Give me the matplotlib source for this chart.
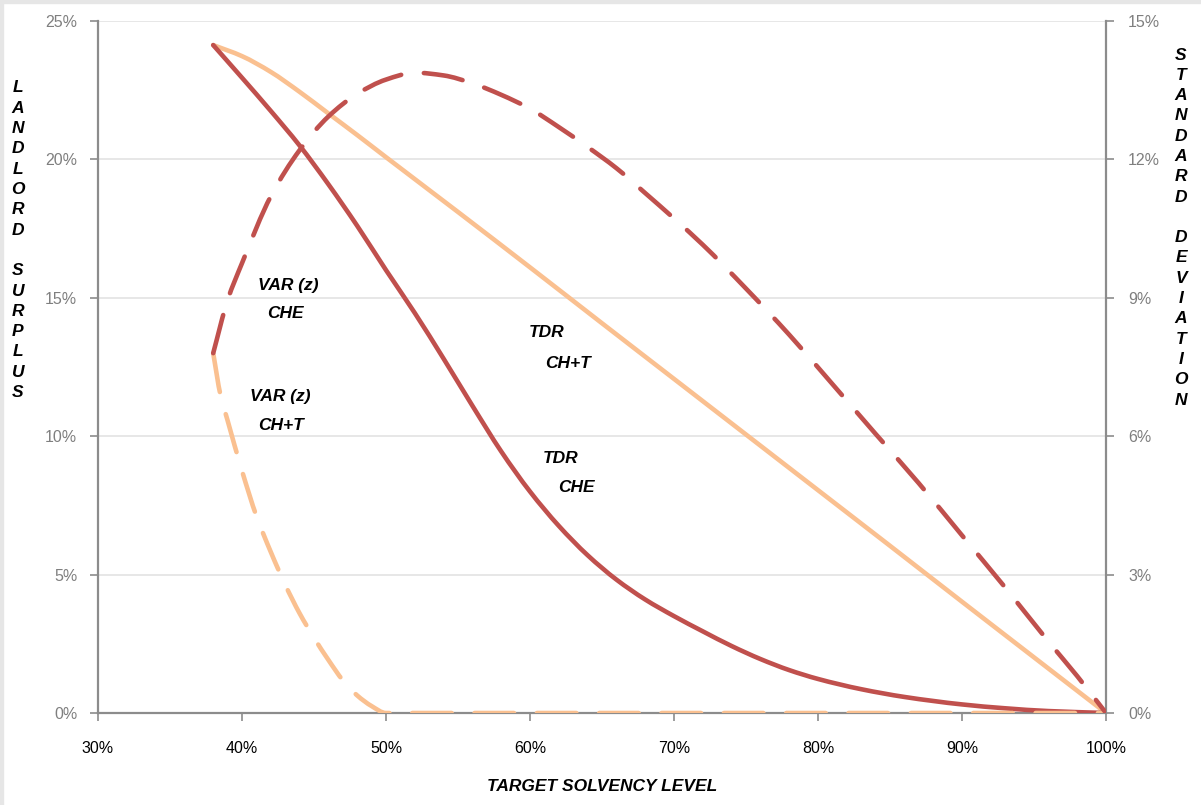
import matplotlib
matplotlib.use("Agg")
import numpy as np
import matplotlib.pyplot as plt
from matplotlib.ticker import PercentFormatter, MultipleLocator
from matplotlib.patches import Rectangle, PathPatch
from matplotlib.path import Path

# ---- data ----
tdr_che_x = [0.38, 0.40, 0.42, 0.44, 0.46, 0.48, 0.50, 0.52, 0.54, 0.56, 0.58, 0.60,
             0.62, 0.64, 0.66, 0.68, 0.70, 0.72, 0.74, 0.76, 0.78, 0.80, 0.83, 0.86,
             0.90, 0.93, 0.96, 1.00]
tdr_che_y = [0.2413, 0.2295, 0.2175, 0.2050, 0.1910, 0.1760, 0.1600, 0.1445, 0.1280,
             0.1110, 0.0945, 0.0800, 0.0676, 0.0570, 0.0482, 0.0410, 0.0350, 0.0295,
             0.0242, 0.0195, 0.0155, 0.0123, 0.0086, 0.0058, 0.0031, 0.0017, 0.0007, 0.0]

tdr_cht_x = [0.38, 0.40, 0.42, 0.44, 0.46, 0.48, 0.50, 0.55, 0.60, 0.65, 0.70, 0.75,
             0.80, 0.85, 0.90, 0.95, 1.00]
tdr_cht_y = [0.2413, 0.2373, 0.2316, 0.2244, 0.2166, 0.2088, 0.2008, 0.1810, 0.1610,
             0.1408, 0.1207, 0.1006, 0.0805, 0.0604, 0.0402, 0.0201, 0.0]

var_che_x = [0.38, 0.39, 0.40, 0.42, 0.44, 0.46, 0.48, 0.50, 0.52, 0.54, 0.56, 0.58,
             0.60, 0.62, 0.64, 0.66, 0.68, 0.70, 0.72, 0.75, 0.78, 0.81, 0.84, 0.87,
             0.90, 0.93, 0.96, 0.98, 1.00]
var_che_y = [0.0780, 0.0895, 0.0975, 0.1120, 0.1220, 0.1293, 0.1342, 0.1373, 0.1388,
             0.1382, 0.1365, 0.1340, 0.1310, 0.1270, 0.1227, 0.1181, 0.1127, 0.1072,
             0.1015, 0.0920, 0.0820, 0.0713, 0.0605, 0.0498, 0.0385, 0.0272, 0.0155,
             0.0080, 0.0]

var_cht_x = [0.38, 0.385, 0.39, 0.40, 0.41, 0.42, 0.43, 0.44, 0.45, 0.46, 0.47, 0.48,
             0.49, 0.50, 0.60, 0.70, 0.80, 0.90, 1.00]
var_cht_y = [0.0780, 0.0690, 0.0634, 0.0525, 0.0427, 0.0349, 0.0278, 0.0216, 0.0163,
             0.0115, 0.0071, 0.0038, 0.0015, 0.0, 0.0, 0.0, 0.0, 0.0, 0.0]

x_ticks = [0.3, 0.4, 0.5, 0.6, 0.7, 0.8, 0.9, 1.0]
left_label = "LANDLORD SURPLUS"
right_label = "STANDARD DEVIATION"
x_label = "TARGET SOLVENCY LEVEL"

RED = "#C0504D"
ORANGE = "#FAC090"
GRID = "#E3E3E3"
SPINE = "#8C8C8C"
TICKGRAY = "#7F7F7F"
FONT = "Liberation Sans"


def smooth_path(xs, ys):
    """Smoothed line (like a spreadsheet 'smoothed line') through the given points,
    built as cubic Bezier segments with monotone (PCHIP) tangents."""
    x = np.asarray(xs, float)
    y = np.asarray(ys, float)
    n = len(x)
    h = np.diff(x)
    d = np.diff(y) / h
    m = np.zeros(n)
    m[0], m[-1] = d[0], d[-1]
    for i in range(1, n - 1):
        if d[i - 1] * d[i] <= 0:
            m[i] = 0.0
        else:
            w1 = 2 * h[i] + h[i - 1]
            w2 = h[i] + 2 * h[i - 1]
            m[i] = (w1 + w2) / (w1 / d[i - 1] + w2 / d[i])
    verts = [(x[0], y[0])]
    codes = [Path.MOVETO]
    for i in range(n - 1):
        verts += [(x[i] + h[i] / 3, y[i] + m[i] * h[i] / 3),
                  (x[i + 1] - h[i] / 3, y[i + 1] - m[i + 1] * h[i] / 3),
                  (x[i + 1], y[i + 1])]
        codes += [Path.CURVE4] * 3
    return Path(verts, codes)


W, H = 1201, 805
fig = plt.figure(figsize=(W / 100, H / 100), dpi=100)
fig.patch.set_facecolor("white")

ax = fig.add_axes([98 / W, 1 - 713 / H, (1106 - 98) / W, (713 - 21) / H])
ax2 = ax.twinx()

ax.set_xlim(0.3, 1.0)
ax.set_ylim(0, 0.25)
ax2.set_ylim(0, 0.15)

lw = 3.3
DASH = (0, (8.6, 5.0))
# solid lines (left axis)
ax.add_patch(PathPatch(smooth_path(tdr_cht_x, tdr_cht_y), fill=False, edgecolor=ORANGE,
                       lw=lw, capstyle="round", joinstyle="round", zorder=3))
ax.add_patch(PathPatch(smooth_path(tdr_che_x, tdr_che_y), fill=False, edgecolor=RED,
                       lw=lw, capstyle="round", joinstyle="round", zorder=4))
# dashed lines (right axis)
ax2.add_patch(PathPatch(smooth_path(var_cht_x, var_cht_y), fill=False, edgecolor=ORANGE,
                        lw=lw, linestyle=DASH, capstyle="round", joinstyle="round", zorder=3))
ax2.add_patch(PathPatch(smooth_path(var_che_x, var_che_y), fill=False, edgecolor=RED,
                        lw=lw, linestyle=DASH, capstyle="round", joinstyle="round", zorder=4))

# grid
ax.yaxis.set_major_locator(MultipleLocator(0.05))
ax.grid(axis="y", color=GRID, lw=1.2, zorder=0)
ax.set_axisbelow(True)
ax2.yaxis.set_major_locator(MultipleLocator(0.03))

ax.set_xticks(x_ticks)
ax.xaxis.set_major_formatter(PercentFormatter(1.0, decimals=0))
ax.yaxis.set_major_formatter(PercentFormatter(1.0, decimals=0))
ax2.yaxis.set_major_formatter(PercentFormatter(1.0, decimals=0))

for a in (ax, ax2):
    for s in a.spines.values():
        s.set_visible(False)
ax.spines["left"].set_visible(True)
ax.spines["bottom"].set_visible(True)
ax2.spines["right"].set_visible(True)
for s in (ax.spines["left"], ax.spines["bottom"], ax2.spines["right"]):
    s.set_color(SPINE)
    s.set_linewidth(1.6)
ax.spines["bottom"].set_zorder(2)

ax.tick_params(axis="y", direction="out", length=6, width=1.2, color=SPINE,
               labelcolor=TICKGRAY, labelsize=11.5, pad=9)
ax2.tick_params(axis="y", direction="out", length=6, width=1.2, color=SPINE,
                labelcolor=TICKGRAY, labelsize=11.5, pad=10)
ax.tick_params(axis="x", direction="out", length=6, width=1.2, color=SPINE,
               labelcolor="black", labelsize=11.5, pad=14)
for lab in ax.get_xticklabels() + ax.get_yticklabels() + ax2.get_yticklabels():
    lab.set_fontfamily(FONT)

ax.set_xlabel(x_label, fontsize=12.5, fontweight="bold", fontstyle="italic",
              family=FONT, labelpad=17)

# vertical stacked axis titles
step = 20.3
for i, ch in enumerate(left_label):
    fig.text(18 / W, 1 - (88 + i * step) / H, ch, ha="center", va="center",
             fontsize=12.5, fontweight="bold", fontstyle="italic", family=FONT)
for i, ch in enumerate(right_label):
    fig.text(1181 / W, 1 - (55 + i * step) / H, ch, ha="center", va="center",
             fontsize=12.5, fontweight="bold", fontstyle="italic", family=FONT)

# annotations
ann = dict(fontsize=12.5, fontweight="bold", fontstyle="italic", family=FONT,
           va="center", zorder=6)
ax.text(0.432, 0.1546, "VAR (z)", ha="center", **ann)
ax.text(0.4175, 0.1445, "CHE", ha="left", **ann)
ax.text(0.4264, 0.1142, "VAR (z)", ha="center", **ann)
ax.text(0.4271, 0.1040, "CH+T", ha="center", **ann)
ax.text(0.6118, 0.1373, "TDR", ha="center", **ann)
ax.text(0.6264, 0.1264, "CH+T", ha="center", **ann)
ax.text(0.6215, 0.0918, "TDR", ha="center", **ann)
ax.text(0.6320, 0.0813, "CHE", ha="center", **ann)

# faint outer frame on top/left edges
fig.patches.append(Rectangle((0, 1 - 3 / H), 1, 3 / H, transform=fig.transFigure,
                             color="#E6E6E6", zorder=-1))
fig.patches.append(Rectangle((0, 0), 3 / W, 1, transform=fig.transFigure,
                             color="#E6E6E6", zorder=-1))

fig.savefig("out.png", dpi=100, facecolor="white")
